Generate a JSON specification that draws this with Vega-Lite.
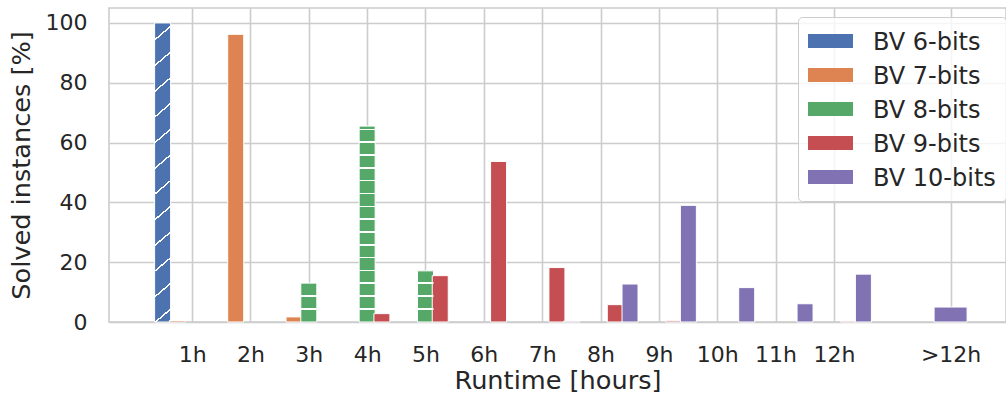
{
  "$schema": "https://vega.github.io/schema/vega-lite/v6.json",
  "width": 897,
  "height": 314,
  "autosize": {"type": "none"},
  "padding": {"left": 109, "top": 8, "right": 0, "bottom": 74},
  "background": "white",
  "config": {
    "font": "DejaVu Sans",
    "view": {"stroke": "#cccccc", "strokeWidth": 1.6},
    "axis": {
      "labelFont": "DejaVu Sans", "titleFont": "DejaVu Sans",
      "labelColor": "#262626", "titleColor": "#262626",
      "titleFontWeight": "normal", "labelFontSize": 22, "titleFontSize": 25.6,
      "grid": true, "gridColor": "#cccccc", "gridWidth": 1.6,
      "domain": false, "ticks": false, "labelPadding": 22
    },
    "legend": {
      "labelFont": "DejaVu Sans", "labelFontSize": 24, "labelColor": "#262626",
      "labelBaseline": "alphabetic",
      "padding": 10, "strokeColor": "#cccccc", "fillColor": "rgba(255,255,255,0.8)",
      "cornerRadius": 4, "symbolType": "M-1,-0.688L1,-0.688L1,-0.068L-1,-0.068Z",
      "symbolSize": 2025, "labelOffset": 20, "rowPadding": 6,
      "symbolStrokeWidth": 0, "symbolOpacity": 1
    }
  },
  "data": {"values": [
    {"hour": 1, "series": "BV 6-bits", "value": 100},
    {"hour": 1, "series": "BV 7-bits", "value": 0.5},
    {"hour": 2, "series": "BV 7-bits", "value": 96.2},
    {"hour": 3, "series": "BV 7-bits", "value": 1.7},
    {"hour": 3, "series": "BV 8-bits", "value": 13.0},
    {"hour": 4, "series": "BV 8-bits", "value": 65.5},
    {"hour": 5, "series": "BV 8-bits", "value": 17.1},
    {"hour": 4, "series": "BV 9-bits", "value": 2.8},
    {"hour": 5, "series": "BV 9-bits", "value": 15.5},
    {"hour": 6, "series": "BV 9-bits", "value": 53.7},
    {"hour": 7, "series": "BV 9-bits", "value": 18.2},
    {"hour": 8, "series": "BV 9-bits", "value": 5.8},
    {"hour": 9, "series": "BV 9-bits", "value": 0.4},
    {"hour": 12, "series": "BV 9-bits", "value": 0.3},
    {"hour": 7, "series": "BV 10-bits", "value": 0.3},
    {"hour": 8, "series": "BV 10-bits", "value": 12.7},
    {"hour": 9, "series": "BV 10-bits", "value": 39.0},
    {"hour": 10, "series": "BV 10-bits", "value": 11.5},
    {"hour": 11, "series": "BV 10-bits", "value": 6.1},
    {"hour": 12, "series": "BV 10-bits", "value": 16.0},
    {"hour": 14, "series": "BV 10-bits", "value": 5.0}
  ]},
  "encoding": {
    "x": {
      "field": "hour", "type": "quantitative",
      "scale": {"domain": [-0.339, 14.864], "nice": false, "zero": false},
      "axis": {"values": [1,2,3,4,5,6,7,8,9,10,11,12,14],
               "labelExpr": "datum.value == 14 ? '>12h' : datum.value + 'h'",
               "title": "Runtime [hours]", "titlePadding": 3}
    },
    "y": {
      "field": "value", "type": "quantitative",
      "scale": {"domain": [0, 105], "nice": false},
      "axis": {"values": [0,20,40,60,80,100], "title": "Solved instances [%]", "titlePadding": 10.5}
    },
    "color": {
      "field": "series", "type": "nominal",
      "scale": {"domain": ["BV 6-bits","BV 7-bits","BV 8-bits","BV 9-bits","BV 10-bits"],
                "range": ["#4C72B0","#DD8452","#55A868","#C44E52","#8172B3"]},
      "legend": {"title": null, "orient": "none", "legendX": 689, "legendY": 9}
    }
  },
  "layer": [
    {"transform": [{"filter": {"field": "series", "equal": "BV 6-bits"}}],
     "mark": {"type": "bar", "orient": "vertical", "xOffset": -29.5, "size": 16, "stroke": "white", "strokeWidth": 1, "opacity": 1}},
    {"transform": [{"filter": {"field": "series", "equal": "BV 7-bits"}}],
     "mark": {"type": "bar", "orient": "vertical", "xOffset": -14.75, "size": 16, "stroke": "white", "strokeWidth": 1, "opacity": 1}},
    {"transform": [{"filter": {"field": "series", "equal": "BV 8-bits"}}],
     "mark": {"type": "bar", "orient": "vertical", "xOffset": 0, "size": 16, "stroke": "white", "strokeWidth": 1, "opacity": 1}},
    {"transform": [{"filter": {"field": "series", "equal": "BV 9-bits"}}],
     "mark": {"type": "bar", "orient": "vertical", "xOffset": 14.75, "size": 16, "stroke": "white", "strokeWidth": 1, "opacity": 1}},
    {"transform": [{"filter": {"field": "series", "equal": "BV 10-bits"}}, {"filter": {"field": "hour", "lte": 12}}],
     "mark": {"type": "bar", "orient": "vertical", "xOffset": 29.5, "size": 16, "stroke": "white", "strokeWidth": 1, "opacity": 1}},
    {"transform": [{"filter": {"field": "series", "equal": "BV 10-bits"}}, {"filter": {"field": "hour", "equal": 14}}],
     "mark": {"type": "bar", "orient": "vertical", "xOffset": 0, "size": 33, "stroke": "white", "strokeWidth": 1, "opacity": 1}},
    {"transform": [{"filter": {"field": "series", "equal": "BV 6-bits"}}, {"filter": {"field": "hour", "equal": 1}}],
     "mark": {"type": "bar", "orient": "vertical", "xOffset": -29.5, "size": 16, "strokeWidth": 0},
     "encoding": {"color": {"value": {"gradient": "linear", "x1": 0, "y1": 0, "x2": 0.0475, "y2": 1.0434, "stops": [
       {"offset": 0.0514, "color": "rgba(255,255,255,0)"}, {"offset": 0.0514, "color": "white"}, {"offset": 0.0574, "color": "white"}, {"offset": 0.0574, "color": "rgba(255,255,255,0)"},
       {"offset": 0.1336, "color": "rgba(255,255,255,0)"}, {"offset": 0.1336, "color": "white"}, {"offset": 0.1396, "color": "white"}, {"offset": 0.1396, "color": "rgba(255,255,255,0)"},
       {"offset": 0.2158, "color": "rgba(255,255,255,0)"}, {"offset": 0.2158, "color": "white"}, {"offset": 0.2218, "color": "white"}, {"offset": 0.2218, "color": "rgba(255,255,255,0)"},
       {"offset": 0.2980, "color": "rgba(255,255,255,0)"}, {"offset": 0.2980, "color": "white"}, {"offset": 0.3040, "color": "white"}, {"offset": 0.3040, "color": "rgba(255,255,255,0)"},
       {"offset": 0.3802, "color": "rgba(255,255,255,0)"}, {"offset": 0.3802, "color": "white"}, {"offset": 0.3862, "color": "white"}, {"offset": 0.3862, "color": "rgba(255,255,255,0)"},
       {"offset": 0.4624, "color": "rgba(255,255,255,0)"}, {"offset": 0.4624, "color": "white"}, {"offset": 0.4684, "color": "white"}, {"offset": 0.4684, "color": "rgba(255,255,255,0)"},
       {"offset": 0.5446, "color": "rgba(255,255,255,0)"}, {"offset": 0.5446, "color": "white"}, {"offset": 0.5506, "color": "white"}, {"offset": 0.5506, "color": "rgba(255,255,255,0)"},
       {"offset": 0.6268, "color": "rgba(255,255,255,0)"}, {"offset": 0.6268, "color": "white"}, {"offset": 0.6328, "color": "white"}, {"offset": 0.6328, "color": "rgba(255,255,255,0)"},
       {"offset": 0.7090, "color": "rgba(255,255,255,0)"}, {"offset": 0.7090, "color": "white"}, {"offset": 0.7150, "color": "white"}, {"offset": 0.7150, "color": "rgba(255,255,255,0)"},
       {"offset": 0.7912, "color": "rgba(255,255,255,0)"}, {"offset": 0.7912, "color": "white"}, {"offset": 0.7972, "color": "white"}, {"offset": 0.7972, "color": "rgba(255,255,255,0)"},
       {"offset": 0.8734, "color": "rgba(255,255,255,0)"}, {"offset": 0.8734, "color": "white"}, {"offset": 0.8794, "color": "white"}, {"offset": 0.8794, "color": "rgba(255,255,255,0)"},
       {"offset": 0.9556, "color": "rgba(255,255,255,0)"}, {"offset": 0.9556, "color": "white"}, {"offset": 0.9616, "color": "white"}, {"offset": 0.9616, "color": "rgba(255,255,255,0)"}
     ]}}}},
    {"transform": [{"filter": {"field": "series", "equal": "BV 8-bits"}}, {"filter": {"field": "hour", "equal": 4}}],
     "mark": {"type": "bar", "orient": "vertical", "xOffset": 0, "size": 16, "strokeWidth": 0},
     "encoding": {"color": {"value": {"gradient": "linear", "x1": 0, "y1": 0, "x2": 0, "y2": 1, "stops": [
       {"offset": 0.0122, "color": "rgba(255,255,255,0)"}, {"offset": 0.0122, "color": "white"}, {"offset": 0.0204, "color": "white"}, {"offset": 0.0204, "color": "rgba(255,255,255,0)"},
       {"offset": 0.0776, "color": "rgba(255,255,255,0)"}, {"offset": 0.0776, "color": "white"}, {"offset": 0.0858, "color": "white"}, {"offset": 0.0858, "color": "rgba(255,255,255,0)"},
       {"offset": 0.1430, "color": "rgba(255,255,255,0)"}, {"offset": 0.1430, "color": "white"}, {"offset": 0.1512, "color": "white"}, {"offset": 0.1512, "color": "rgba(255,255,255,0)"},
       {"offset": 0.2089, "color": "rgba(255,255,255,0)"}, {"offset": 0.2089, "color": "white"}, {"offset": 0.2171, "color": "white"}, {"offset": 0.2171, "color": "rgba(255,255,255,0)"},
       {"offset": 0.2742, "color": "rgba(255,255,255,0)"}, {"offset": 0.2742, "color": "white"}, {"offset": 0.2824, "color": "white"}, {"offset": 0.2824, "color": "rgba(255,255,255,0)"},
       {"offset": 0.3396, "color": "rgba(255,255,255,0)"}, {"offset": 0.3396, "color": "white"}, {"offset": 0.3478, "color": "white"}, {"offset": 0.3478, "color": "rgba(255,255,255,0)"},
       {"offset": 0.4055, "color": "rgba(255,255,255,0)"}, {"offset": 0.4055, "color": "white"}, {"offset": 0.4137, "color": "white"}, {"offset": 0.4137, "color": "rgba(255,255,255,0)"},
       {"offset": 0.4709, "color": "rgba(255,255,255,0)"}, {"offset": 0.4709, "color": "white"}, {"offset": 0.4791, "color": "white"}, {"offset": 0.4791, "color": "rgba(255,255,255,0)"},
       {"offset": 0.5362, "color": "rgba(255,255,255,0)"}, {"offset": 0.5362, "color": "white"}, {"offset": 0.5444, "color": "white"}, {"offset": 0.5444, "color": "rgba(255,255,255,0)"},
       {"offset": 0.6016, "color": "rgba(255,255,255,0)"}, {"offset": 0.6016, "color": "white"}, {"offset": 0.6098, "color": "white"}, {"offset": 0.6098, "color": "rgba(255,255,255,0)"},
       {"offset": 0.6675, "color": "rgba(255,255,255,0)"}, {"offset": 0.6675, "color": "white"}, {"offset": 0.6757, "color": "white"}, {"offset": 0.6757, "color": "rgba(255,255,255,0)"},
       {"offset": 0.7329, "color": "rgba(255,255,255,0)"}, {"offset": 0.7329, "color": "white"}, {"offset": 0.7411, "color": "white"}, {"offset": 0.7411, "color": "rgba(255,255,255,0)"},
       {"offset": 0.7982, "color": "rgba(255,255,255,0)"}, {"offset": 0.7982, "color": "white"}, {"offset": 0.8064, "color": "white"}, {"offset": 0.8064, "color": "rgba(255,255,255,0)"},
       {"offset": 0.8641, "color": "rgba(255,255,255,0)"}, {"offset": 0.8641, "color": "white"}, {"offset": 0.8723, "color": "white"}, {"offset": 0.8723, "color": "rgba(255,255,255,0)"},
       {"offset": 0.9295, "color": "rgba(255,255,255,0)"}, {"offset": 0.9295, "color": "white"}, {"offset": 0.9377, "color": "white"}, {"offset": 0.9377, "color": "rgba(255,255,255,0)"}
     ]}}}},
    {"transform": [{"filter": {"field": "series", "equal": "BV 8-bits"}}, {"filter": {"field": "hour", "equal": 3}}],
     "mark": {"type": "bar", "orient": "vertical", "xOffset": 0, "size": 16, "strokeWidth": 0},
     "encoding": {"color": {"value": {"gradient": "linear", "x1": 0, "y1": 0, "x2": 0, "y2": 1, "stops": [
       {"offset": 0.3162, "color": "rgba(255,255,255,0)"}, {"offset": 0.3162, "color": "white"}, {"offset": 0.3574, "color": "white"}, {"offset": 0.3574, "color": "rgba(255,255,255,0)"},
       {"offset": 0.6452, "color": "rgba(255,255,255,0)"}, {"offset": 0.6452, "color": "white"}, {"offset": 0.6864, "color": "white"}, {"offset": 0.6864, "color": "rgba(255,255,255,0)"}
     ]}}}},
    {"transform": [{"filter": {"field": "series", "equal": "BV 8-bits"}}, {"filter": {"field": "hour", "equal": 5}}],
     "mark": {"type": "bar", "orient": "vertical", "xOffset": 0, "size": 16, "strokeWidth": 0},
     "encoding": {"color": {"value": {"gradient": "linear", "x1": 0, "y1": 0, "x2": 0, "y2": 1, "stops": [
       {"offset": 0.2270, "color": "rgba(255,255,255,0)"}, {"offset": 0.2270, "color": "white"}, {"offset": 0.2584, "color": "white"}, {"offset": 0.2584, "color": "rgba(255,255,255,0)"},
       {"offset": 0.4794, "color": "rgba(255,255,255,0)"}, {"offset": 0.4794, "color": "white"}, {"offset": 0.5108, "color": "white"}, {"offset": 0.5108, "color": "rgba(255,255,255,0)"},
       {"offset": 0.7299, "color": "rgba(255,255,255,0)"}, {"offset": 0.7299, "color": "white"}, {"offset": 0.7613, "color": "white"}, {"offset": 0.7613, "color": "rgba(255,255,255,0)"}
     ]}}}}
  ]
}
